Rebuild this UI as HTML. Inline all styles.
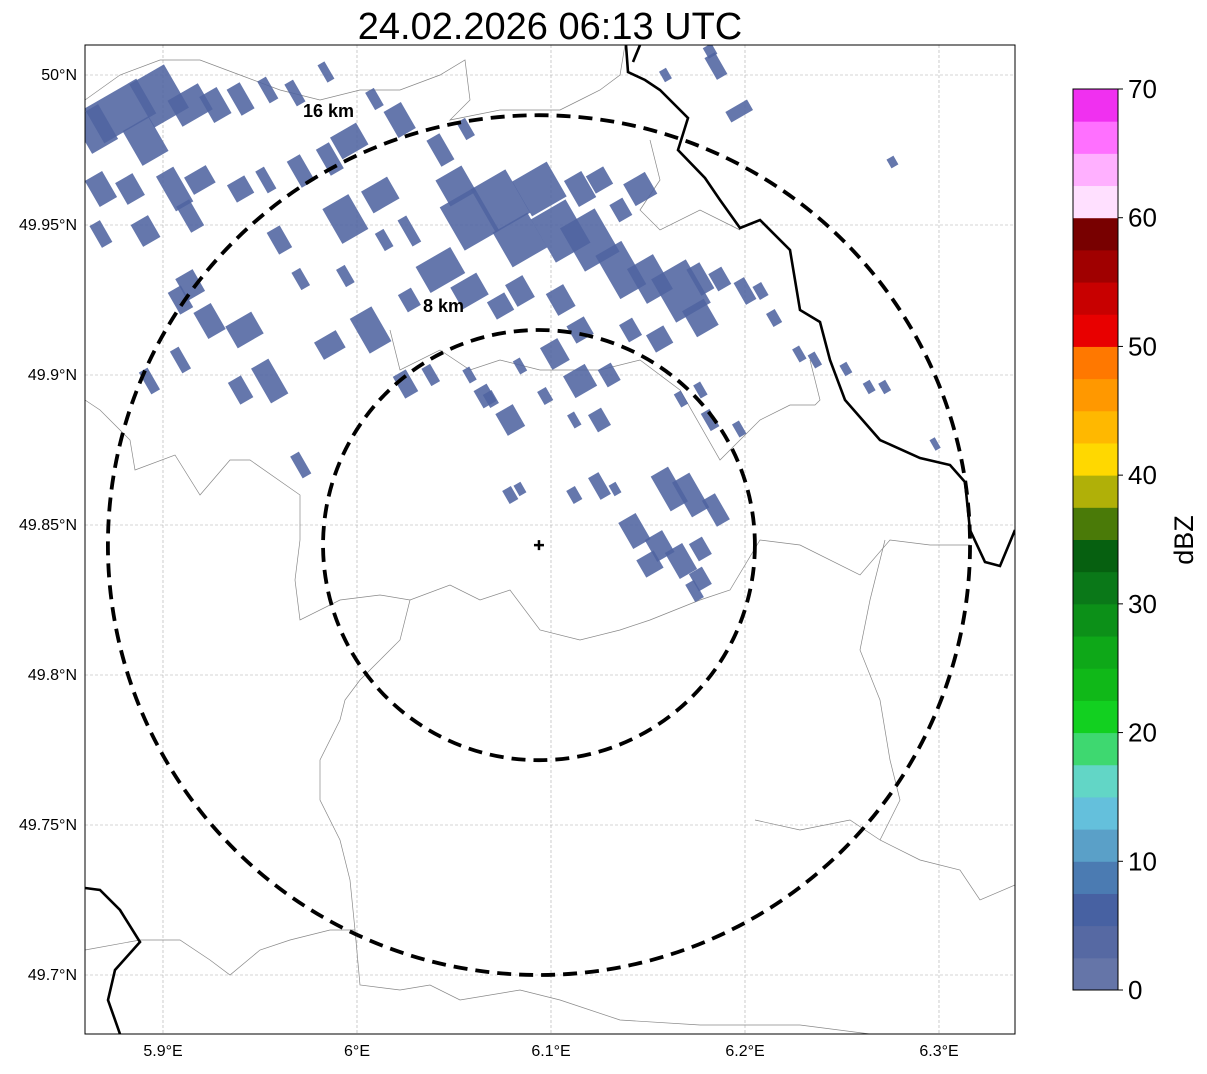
<!DOCTYPE html>
<html><head><meta charset="utf-8">
<style>
html,body{margin:0;padding:0;background:#fff;}
body{width:1207px;height:1069px;overflow:hidden;font-family:"Liberation Sans","DejaVu Sans",sans-serif;}
</style></head>
<body>
<svg id="chart" width="1207" height="1069" viewBox="0 0 1207 1069" xmlns="http://www.w3.org/2000/svg">
  <text x="550" y="39" font-size="38" text-anchor="middle" fill="#000" font-family="Liberation Sans, DejaVu Sans, sans-serif">24.02.2026 06:13 UTC</text>
  <defs><clipPath id="plotclip"><rect x="85" y="45" width="930" height="989"/></clipPath></defs>
  <g id="grid"></g>
  <g clip-path="url(#plotclip)">
    <g id="borders"></g>
    <g id="echoes"></g>
    <g id="rings"></g>
  </g>
  <rect x="85" y="45" width="930" height="989" fill="none" stroke="#000" stroke-width="1"/>
  <g id="axes"></g>
  <g id="cbar"></g>
</svg>
<script>
const lonTicks = [5.9, 6.0, 6.1, 6.2, 6.3];
const lonLabels = ["5.9°E","6°E","6.1°E","6.2°E","6.3°E"];
const latTicks = [50.0, 49.95, 49.9, 49.85, 49.8, 49.75, 49.7];
const latLabels = ["50°N","49.95°N","49.9°N","49.85°N","49.8°N","49.75°N","49.7°N"];
const radarLon = 6.0938, radarLat = 49.8433;
const ringKm = [16, 8];
const ringLatDeg = [0.1433, 0.0717];
const ringLonDeg = [0.2222, 0.1113];
const cbarValues = [0,10,20,30,40,50,60,70];
const cbarColors = ["#6575a8","#5669a3","#4761a2","#4b7bb2","#5aa0c8","#64c0dc","#62d6c6","#3ed870","#12d020","#10b818","#0ea818","#0c9018","#0a7818","#066010","#4a7a08","#b0b008","#ffd800","#ffb800","#ff9800","#ff7800","#e80000","#c80000","#a00000","#780000","#ffe0ff","#ffb0ff","#ff70ff","#f030f0"];
const echoLon = [5.878,5.898,5.865,5.914,5.927,5.891,5.868,5.883,5.906,5.919,5.940,5.954,5.968,5.984,5.868,5.891,5.914,5.940,5.953,5.971,5.986,5.996,6.009,6.022,5.994,6.012,6.027,6.014,5.960,5.971,5.994,5.914,5.909,5.924,5.942,5.955,5.940,5.909,5.893,5.986,6.007,6.027,6.025,6.038,5.971,
6.043,6.056,6.051,6.058,6.074,6.084,6.094,6.105,6.120,6.136,6.151,6.167,6.177,6.115,6.125,6.146,6.136,6.043,6.058,6.074,6.084,6.105,6.115,6.102,6.115,6.141,6.156,6.177,6.187,6.200,6.208,6.215,6.197,6.185,6.182,6.159,6.276,6.130,6.058,6.066,6.079,6.097,6.112,6.125,6.084,6.167,6.177,6.182,6.197,6.228,6.236,6.252,6.264,6.272,6.298,6.069,
6.079,6.084,6.112,6.125,6.133,6.161,6.172,6.185,6.143,6.156,6.151,6.167,6.177,6.177,6.174];
const echoLat = [49.988,49.993,49.982,49.990,49.990,49.978,49.962,49.962,49.962,49.965,49.992,49.995,49.994,50.001,49.947,49.948,49.953,49.962,49.965,49.968,49.972,49.978,49.992,49.985,49.952,49.960,49.948,49.945,49.945,49.932,49.933,49.930,49.925,49.918,49.915,49.898,49.895,49.905,49.898,49.910,49.915,49.925,49.897,49.900,49.870,
49.975,49.982,49.963,49.952,49.958,49.945,49.962,49.948,49.945,49.935,49.932,49.928,49.919,49.962,49.965,49.962,49.955,49.935,49.928,49.923,49.928,49.925,49.915,49.907,49.898,49.915,49.912,49.932,49.932,49.928,49.928,49.919,49.988,50.003,50.008,50.000,49.971,49.900,49.900,49.893,49.885,49.893,49.885,49.885,49.903,49.892,49.895,49.885,49.882,49.907,49.905,49.902,49.896,49.896,49.877,49.892,
49.860,49.862,49.860,49.863,49.862,49.862,49.860,49.855,49.848,49.843,49.837,49.838,49.842,49.832,49.828];
const echoW = [60,40,30,35,20,30,20,20,20,25,15,10,10,8,12,20,15,20,10,15,15,30,10,20,30,30,10,10,15,10,10,20,15,20,30,20,15,10,10,25,25,15,15,10,10,
15,10,30,40,40,40,40,40,40,30,30,40,25,20,20,25,15,40,30,20,20,20,20,20,25,15,20,15,15,12,10,10,25,12,10,8,8,15,8,15,20,10,8,15,8,8,8,10,8,8,8,8,8,8,6,10,
10,8,10,12,8,20,20,15,20,20,20,20,15,15,10];
const echoH = [40,50,40,30,30,40,30,25,40,20,30,25,25,20,25,25,30,20,25,30,30,25,20,30,40,25,30,20,25,20,20,25,25,30,25,40,25,25,25,20,40,20,25,20,25,
30,20,30,50,50,40,40,50,50,50,40,50,30,30,20,25,20,30,25,20,25,25,20,25,25,20,20,30,20,25,15,15,12,25,12,12,10,20,15,20,25,15,15,20,15,15,15,20,15,15,15,12,12,12,12,15,
15,12,15,25,12,40,40,30,30,25,20,30,20,20,20];

const NS="http://www.w3.org/2000/svg";
const X = lon => 163 + (lon-5.9)*1940;
const Y = lat => 75 + (50.0-lat)*3000;
function mk(tag, attrs, parent){const e=document.createElementNS(NS,tag);for(const k in attrs)e.setAttribute(k,attrs[k]);parent.appendChild(e);return e;}

const grid=document.getElementById('grid'), axes=document.getElementById('axes');
lonTicks.forEach((v,i)=>{
  const l=mk('line',{x1:X(v),x2:X(v),y1:45,y2:1034,stroke:'#aaa','stroke-width':0.6,'stroke-dasharray':'3,2'},grid);
  
  
  const t=mk('text',{x:X(v),y:1056,'font-size':16,'text-anchor':'middle',fill:'#000'},axes);
  t.textContent=lonLabels[i];
  
  
});
latTicks.forEach((v,i)=>{
  const l=mk('line',{x1:85,x2:1015,y1:Y(v),y2:Y(v),stroke:'#aaa','stroke-width':0.6,'stroke-dasharray':'3,2'},grid);
  
  
  const t=mk('text',{x:77,y:Y(v)+5,'font-size':16,'text-anchor':'end',fill:'#000'},axes);
  t.textContent=latLabels[i];
  
  
});

const borders=document.getElementById('borders');
const thin=[
 "M85,400 L100,410 130,440 135,470 175,455 200,495 230,460 250,460 300,495 300,540 295,580 300,620 340,600 380,595 410,600 450,585 480,600 510,590 540,630 580,640 620,630 650,620 700,600 730,590 760,540 800,545 860,575 890,540 930,545 970,545",
 "M410,600 L400,640 380,660 360,680 345,700 340,720 320,760 320,800 340,840 350,880 355,930 360,985 400,990 430,985 460,1000 520,990 560,1000 620,1020 700,1025 760,1025 800,1025 870,1034",
 "M85,950 L140,940 180,940 210,960 230,975 260,950 290,940 330,930 355,930",
 "M755,820 L800,830 850,820 880,840 920,860 960,870 980,900 1015,885",
 "M885,540 L870,600 860,650 880,700 890,760 900,800 880,840",
 "M85,100 L120,75 160,60 200,60 240,75 280,90 320,100 360,90 400,90 440,75 465,60 470,100 450,120 500,110 560,110 580,100 600,90 620,75 625,45",
 "M390,330 L400,370 440,350 470,370 500,360 540,370 600,370 640,360 680,390 720,460 740,440 760,420 790,405 815,405 820,400 810,360",
 "M650,140 L660,180 640,210 660,230 700,210 740,230"
];
thin.forEach(d=>{const p=mk('path',{d:d,fill:'none',stroke:'#888','stroke-width':0.7},borders);
 
 });
const thick=[
 "M626,45 L628,72 645,80 660,90 688,118 678,150 705,178 720,200 740,228 760,220 790,250 800,310 820,322 830,360 845,400 880,440 920,458 950,465 965,482 970,530 985,562 1000,566 1015,530",
 "M85,888 L100,890 120,910 140,942 115,970 108,1000 120,1034",
 "M640,45 L633,62"
];
thick.forEach(d=>{const p=mk('path',{d:d,fill:'none',stroke:'#000','stroke-width':2.6},borders);
 
 });

const echoes=document.getElementById('echoes');
echoLon.forEach((lon,i)=>{
  const cx=X(lon), cy=Y(echoLat[i]), w=echoW[i], h=echoH[i];
  const r=mk('rect',{x:cx-w/2,y:cy-h/2,width:w,height:h,fill:'#5064a0','fill-opacity':0.88,transform:`rotate(-30 ${cx} ${cy})`},echoes);
  
  
});

const rings=document.getElementById('rings');
ringKm.forEach((km,i)=>{
  const e=mk('ellipse',{cx:X(radarLon),cy:Y(radarLat),rx:ringLonDeg[i]*1940,ry:ringLatDeg[i]*3000,fill:'none',stroke:'#000','stroke-width':3.8,'stroke-dasharray':'14,8'},rings);
  
  
});
const rl1=mk('text',{x:303,y:117,'font-size':18,'font-weight':'bold',fill:'#000'},rings); rl1.textContent='16 km';


const rl2=mk('text',{x:423,y:312,'font-size':18,'font-weight':'bold',fill:'#000'},rings); rl2.textContent='8 km';


const mx=X(radarLon), my=Y(radarLat);
const mark=mk('path',{d:`M${mx-5},${my} H${mx+5} M${mx},${my-5} V${my+5}`,stroke:'#000','stroke-width':2.5},rings);



const cbar=document.getElementById('cbar');
const cb0=990, cb1=89, cbx=1073, cbw=45;
const CY = v => cb0 - (v/70)*(cb0-cb1);
cbarColors.forEach((c,i)=>{
  const r=mk('rect',{x:cbx,y:CY((i+1)*2.5),width:cbw,height:CY(i*2.5)-CY((i+1)*2.5)+0.5,fill:c},cbar);
  
  
});
const fr=mk('rect',{x:cbx,y:cb1,width:cbw,height:cb0-cb1,fill:'none',stroke:'#000','stroke-width':1},cbar);


cbarValues.forEach(v=>{
  const tk=mk('line',{x1:cbx+cbw,x2:cbx+cbw+5,y1:CY(v),y2:CY(v),stroke:'#000','stroke-width':1},cbar);
  
  
  const t=mk('text',{x:1128,y:CY(v)+9,'font-size':26,fill:'#000'},cbar); t.textContent=v;
  
  
});
const lab=mk('text',{x:1193,y:540,'font-size':27,fill:'#000','text-anchor':'middle',transform:'rotate(-90 1193 540)'},cbar);
lab.textContent='dBZ';


</script>
</body></html>
